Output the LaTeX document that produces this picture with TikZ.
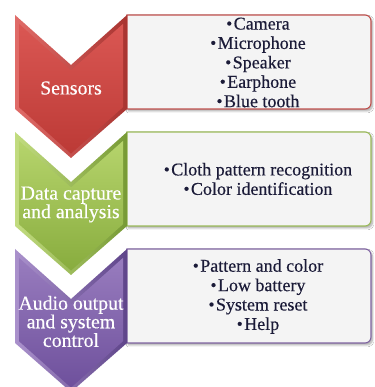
\documentclass[tikz,border=0pt]{standalone}
\usepackage{fontspec}
\setmainfont{Liberation Serif}
\newfontfamily\tnr[FakeBold=0.35]{Liberation Serif}
\usetikzlibrary{shadows.blur}
\definecolor{redA}{HTML}{DA5753}
\definecolor{redB}{HTML}{BC3A36}
\definecolor{redE}{HTML}{E06C68}
\definecolor{redF}{HTML}{A93431}
\definecolor{redL}{HTML}{C0504D}
\definecolor{grnA}{HTML}{B6D46C}
\definecolor{grnB}{HTML}{88AC3E}
\definecolor{grnE}{HTML}{C2DC80}
\definecolor{grnF}{HTML}{779A35}
\definecolor{grnL}{HTML}{9BBB59}
\definecolor{purA}{HTML}{987CBE}
\definecolor{purB}{HTML}{6E509C}
\definecolor{purE}{HTML}{AA91CC}
\definecolor{purF}{HTML}{5F458A}
\definecolor{purL}{HTML}{8064A2}
\definecolor{boxfill}{HTML}{F4F4F4}
\definecolor{txt}{HTML}{1B1B38}
\newcommand{\bul}{{\fontsize{17pt}{17pt}\selectfont\raisebox{0.05ex}{•}}\hspace{1.5pt}}
% #1 top y, #2 light, #3 dark, #4 edge light, #5 edge dark
\newcommand{\mychev}[5]{%
  \path[left color=#4, right color=#5]
    (15,#1) -- (71,#1-50) -- (127,#1) -- (127,#1-94) -- (71,#1-143) -- (15,#1-94) -- cycle;
  \path[top color=#2, bottom color=#3]
    (19,#1-8.9) -- (71,#1-55.4) -- (123,#1-8.9) -- (123,#1-92.2) -- (71,#1-138.6) -- (19,#1-92.2) -- cycle;
}
% #1 top y, #2 border colour
\newcommand{\mybox}[2]{%
  \path[fill=boxfill, draw=#2, line width=1.1pt,
        blur shadow={shadow xshift=1.5pt, shadow yshift=-2pt, shadow blur steps=6, shadow blur radius=2pt, shadow opacity=35}]
    (127,#1) -- (365,#1) arc[start angle=90, end angle=0, radius=6]
    -- (371,#1-88) arc[start angle=0, end angle=-90, radius=6]
    -- (127,#1-94) -- cycle;
}
\tikzset{
  boxtext/.style={align=center, text=txt, inner sep=0pt, font=\tnr\fontsize{18pt}{19.4pt}\selectfont},
  chevtext/.style={align=center, text=white, inner sep=0pt, font=\tnr\fontsize{19.8pt}{18.6pt}\selectfont}
}
\begin{document}
\begin{tikzpicture}[x=1pt,y=1pt]
\useasboundingbox (0,0) rectangle (374,387);
\clip (0,0) rectangle (374,387);
\fill[white] (0,0) rectangle (374,387);
% boxes
\mybox{372}{redL}
\mybox{255}{grnL}
\mybox{138}{purL}
% chevrons (bottom first so upper tip lies on top)
\mychev{138}{purA}{purB}{purE}{purF}
\mychev{255}{grnA}{grnB}{grnE}{grnF}
\mychev{372}{redA}{redB}{redE}{redF}
% labels
\node[chevtext] (s1) at (71,299) {Sensors};
\node[chevtext] (s2) at (71,182.5) {Data capture\\and analysis};
\node[chevtext] (s3) at (71,65.5) {Audio output\\and system\\control};
\node[boxtext] (t1) at (258,324.5) {\bul Camera\\\bul Microphone\\\bul Speaker\\\bul Earphone\\\bul Blue tooth};
\node[boxtext] (t2) at (258,208) {\bul Cloth pattern recognition\\\bul Color identification};
\node[boxtext] (t3) at (258,90.5) {\bul Pattern and color\\\bul Low battery\\\bul System reset\\\bul Help};
\end{tikzpicture}
\end{document}
